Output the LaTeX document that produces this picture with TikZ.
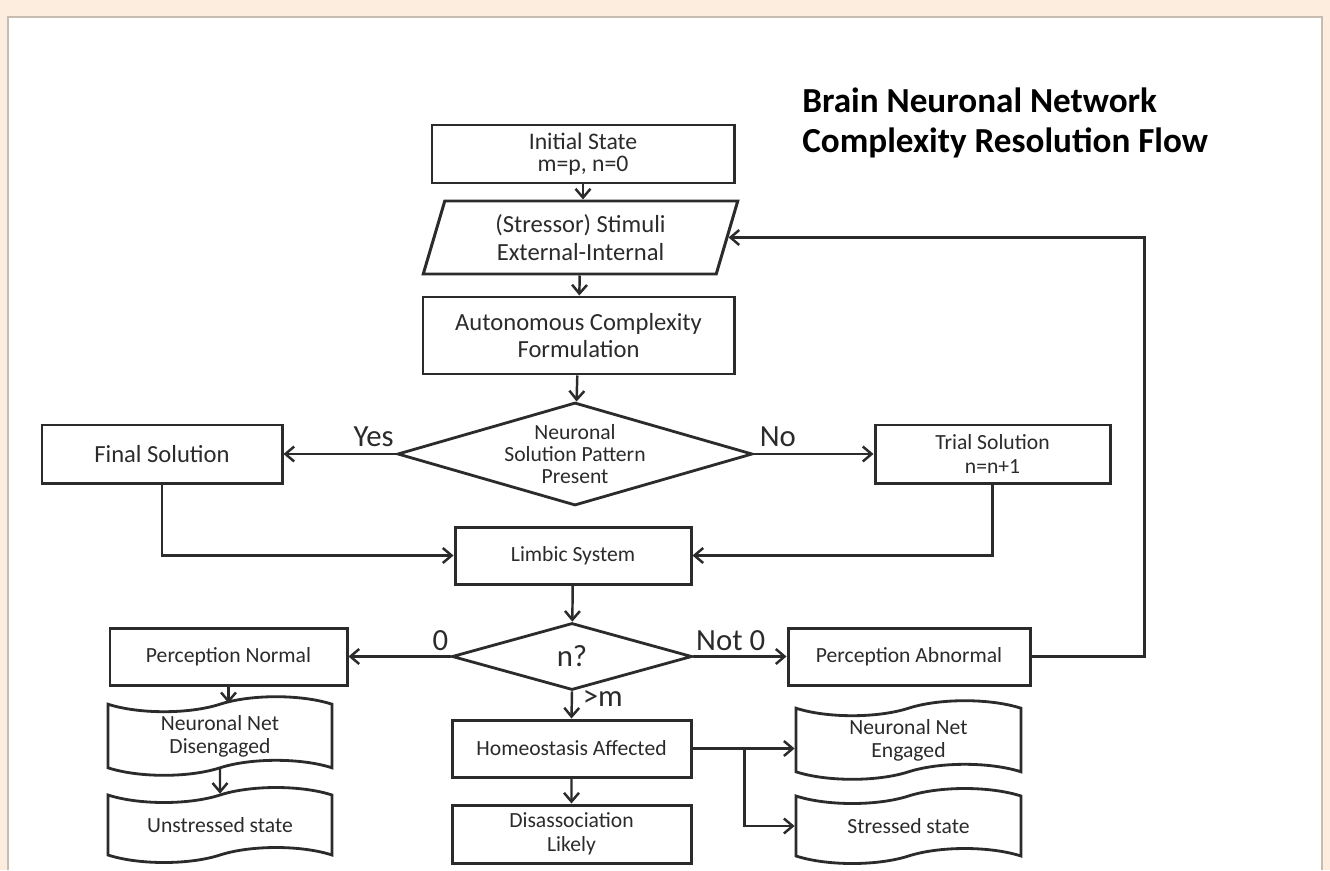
\documentclass[tikz,border=0pt]{standalone}
\usepackage{fontspec}
\setmainfont{Carlito}
\usetikzlibrary{shapes.geometric,shapes.symbols,arrows.meta}
\definecolor{peach}{HTML}{FDEDDE}
\definecolor{panelline}{HTML}{C8BCB0}
\definecolor{ink}{HTML}{2B2B2B}

\begin{document}
\begin{tikzpicture}[scale=0.2,
        box/.style={draw=ink, line width=1.7pt, rectangle, align=center, inner sep=2pt, text=ink, font=\fontsize{12.3}{13.5}\selectfont},
        bigbox/.style={box, font=\fontsize{14}{15.5}\selectfont},
        decide/.style={draw=ink, line width=1.6pt, diamond, inner sep=0pt},
        tapebox/.style={draw=ink, line width=1.6pt, tape, tape bend height=0.3cm, align=center, inner sep=2pt, text=ink, font=\fontsize{12.3}{13}\selectfont},
        lbl/.style={font=\fontsize{17.5}{20}\selectfont, text=ink, inner sep=1.5pt},
        arr/.style={draw=ink, line width=1.4pt, -{Straight Barb[length=5pt,width=8.5pt]}}]
        \useasboundingbox (0,0) rectangle (133,-87);
        \fill [peach] (0,0) rectangle (133,-87);
        \fill [white] (0.8,-1.7) rectangle (132.2,-87);
        \draw [panelline, line width=0.8pt] (0.8,-87) |- (132.2,-1.7) -- (132.2,-87);

        \node [anchor=west, align=left, inner sep=0pt, font=\bfseries\fontsize{20}{23}\selectfont] (ttl) at (80.2,-12.3) {Brain Neuronal Network\\Complexity Resolution Flow};

        \node [box, font=\fontsize{13.5}{12.5}\selectfont, minimum width=6.04cm, minimum height=1.16cm] (init) at (58.3,-15.4) {Initial State\\m=p, n=0};
        \node [bigbox, trapezium, trapezium left angle=75, trapezium right angle=105, trapezium stretches=true, minimum width=6.3cm, minimum height=1.46cm] (stim) at (58.05,-23.75) {(Stressor) Stimuli\\External-Internal};
        \node [bigbox, minimum width=6.22cm, minimum height=1.54cm] (auto) at (57.85,-33.55) {Autonomous Complexity\\Formulation};
        \node [decide, minimum width=7.1cm, minimum height=2.06cm, label={[align=center, text=ink, font=\fontsize{12.3}{12.5}\selectfont]center:{Neuronal\\Solution Pattern\\Present}}] (dec1) at (57.5,-45.4) {};
        \node [bigbox, minimum width=4.8cm, minimum height=1.16cm] (final) at (16.2,-45.4) {Final Solution};
        \node [box, minimum width=4.7cm, minimum height=1.16cm] (trial) at (99.25,-45.4) {Trial Solution\\n=n+1};
        \node [box, minimum width=4.72cm, minimum height=1.14cm] (limbic) at (57.3,-55.55) {Limbic System};
        \node [decide, minimum width=4.8cm, minimum height=1.34cm, label={[lbl]center:n?}] (dec2) at (57.2,-65.65) {};
        \node [box, minimum width=4.74cm, minimum height=1.14cm] (pnorm) at (22.85,-65.65) {Perception Normal};
        \node [box, minimum width=4.84cm, minimum height=1.14cm] (pabn) at (90.9,-65.65) {Perception Abnormal};
        \node [box, minimum width=4.78cm, minimum height=1.14cm] (homeo) at (57.15,-74.85) {Homeostasis Affected};
        \node [box, minimum width=4.78cm, minimum height=1.16cm] (dis) at (57.15,-83.4) {Disassociation\\Likely};
        \node [tapebox, minimum width=4.48cm, minimum height=1.4cm] (diseng) at (22,-73.6) {Neuronal Net\\Disengaged};
        \node [tapebox, minimum width=4.48cm, minimum height=1.5cm] (unstr) at (22,-82.5) {Unstressed state};
        \node [tapebox, minimum width=4.5cm, minimum height=1.4cm] (eng) at (90.85,-74) {Neuronal Net\\Engaged};
        \node [tapebox, minimum width=4.5cm, minimum height=1.5cm] (stressed) at (90.85,-82.6) {Stressed state};

        \draw [arr] (init.south) -- (init.south |- stim.north);
        \draw [arr] (stim) -- (auto);
        \draw [arr] (auto) -- (dec1);
        \draw [arr] (dec1.west) -- node [lbl, above=2pt, pos=0.2] {Yes} (final.east);
        \draw [arr] (dec1.east) -- node [lbl, above=2pt, pos=0.2] {No} (trial.west);
        \draw [arr] (final.south) |- (limbic.west);
        \draw [arr] (trial.south) |- (limbic.east);
        \draw [arr] (limbic) -- (dec2);
        \draw [arr] (dec2.west) -- node [lbl, above=1pt, pos=0.1] {0} (pnorm.east);
        \draw [arr] (dec2.east) -- node [lbl, above=1pt, pos=0.4] {Not 0} (pabn.west);
        \draw [arr] (dec2.south) -- node [lbl, right=4pt, pos=0.25] {>m} (homeo.north);
        \draw [arr] (pabn.east) -- ++(11.3,0) |- (stim.east);
        \draw [arr] (pnorm.south) -- (pnorm.south |- diseng.north);
        \draw [arr] (diseng) -- (unstr);
        \draw [arr] (homeo) -- (dis);
        \draw [arr] (homeo.east) -- (homeo.east -| eng.west);
        \draw [arr] (homeo.east) ++(5.2,0) |- (stressed.west);
\end{tikzpicture}
\end{document}
